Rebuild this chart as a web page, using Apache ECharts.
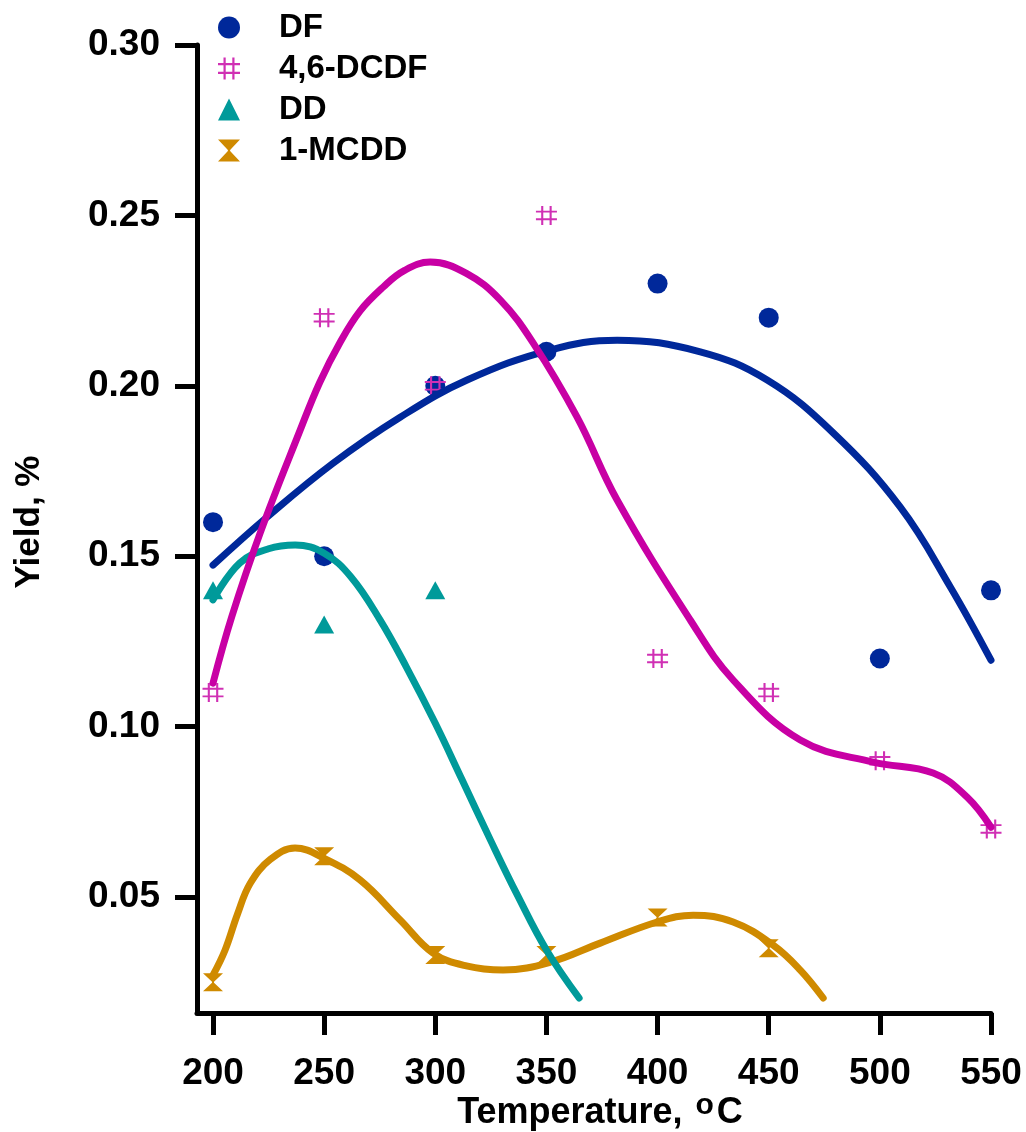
<!DOCTYPE html>
<html>
<head>
<meta charset="utf-8">
<script src="https://cdn.jsdelivr.net/npm/echarts@6/dist/echarts.min.js"></script>
<style>
html,body{margin:0;padding:0;background:#fff;}
#c{width:1026px;height:1132px;}
</style>
</head>
<body>
<div id="c"></div>
<script>
// ---- data ----
const xTicks = [200, 250, 300, 350, 400, 450, 500, 550];
const yTicks = [0.05, 0.10, 0.15, 0.20, 0.25, 0.30];

const temps = [200, 250, 300, 350, 400, 450, 500, 550];
const dfY   = [0.16, 0.15, 0.20, 0.21, 0.23, 0.22, 0.12, 0.14];
const dcdfY = [0.11, 0.22, 0.20, 0.25, 0.12, 0.11, 0.09, 0.07];
const ddX   = [200, 250, 300];
const ddY   = [0.14, 0.13, 0.14];
const mcddX = [200, 250, 300, 350, 400, 450];
const mcddY = [0.025, 0.062, 0.033, 0.033, 0.044, 0.035];

// fitted curves, points
const dfFit = [[200,0.1474],[224.3,0.1615],[254,0.1773],[284.2,0.1908],[314.3,0.2017],[351.7,0.2105],[381.8,0.2134],[419.2,0.2100],[449.3,0.2017],[479,0.1862],[509.2,0.1644],[531.7,0.1410],[550,0.1195]];
const dcdfFit = [[200,0.1128],[208.4,0.1322],[221.2,0.1568],[239.2,0.1870],[248,0.2010],[257.2,0.2128],[266.2,0.2220],[276.6,0.2290],[286,0.2338],[297.7,0.2363],[314,0.2330],[329.2,0.2252],[344,0.2126],[363.8,0.1908],[381.8,0.1665],[414.7,0.1313],[434,0.1137],[464.2,0.0961],[497,0.0896],[524,0.0864],[539.3,0.0793],[550,0.0705]];
const ddFit = [[200,0.1372],[212,0.1480],[225,0.1522],[237,0.1533],[250,0.1509],[262,0.1440],[275,0.1315],[287,0.1175],[300,0.1010],[312,0.0845],[325,0.0665],[337,0.0505],[350,0.0345],[364.7,0.0204]];
const mcddFit = [[200,0.0271],[205.4,0.0344],[211,0.0450],[216.7,0.0540],[225.7,0.0610],[236.9,0.0644],[250,0.0614],[266.2,0.0550],[284.2,0.0433],[299,0.0336],[314,0.0298],[330.5,0.0286],[351.7,0.0309],[374.2,0.0365],[399.8,0.0427],[416,0.0447],[434,0.0427],[452,0.0359],[464.2,0.0286],[474.5,0.0204]];

const names = ['DF', '4,6-DCDF', 'DD', '1-MCDD'];
const colors = { DF: '#00289a', DCDF: '#c800a4', DD: '#009a9a', MCDD: '#cf8a00' };

const hashPath = 'path://M5,0H7V20H5Z M13,0H15V20H13Z M0,5H20V7H0Z M0,13H20V15H0Z';
const hourglassPath = 'path://M0,0L20,0L11,9.5L11,10.5L20,20L0,20L9,10.5L9,9.5Z';

const FONT = '"Liberation Sans", Arial, Helvetica, sans-serif';

function zip(xs, ys) { return xs.map((x, i) => [x, ys[i]]); }

function fitLine(name, data, color, z) {
  return {
    name: name, type: 'line', data: data, smooth: 0.4, showSymbol: false, symbol: 'none',
    lineStyle: { color: color, width: 7, cap: 'round', join: 'round' },
    z: z, silent: true, legendHoverLink: false
  };
}

const chart = echarts.init(document.getElementById('c'), null, { renderer: 'canvas' });
chart.setOption({
  animation: false,
  backgroundColor: '#fff',
  grid: { left: 197, right: 35, top: 45, bottom: 119, containLabel: false, outerBoundsMode: 'none' },
  legend: {
    data: names,
    left: 213, top: 6, orient: 'vertical',
    itemWidth: 22, itemHeight: 22, itemGap: 8,
    textStyle: { fontFamily: FONT, fontSize: 33, fontWeight: 'bold', color: '#000', lineHeight: 32, padding: [0, 0, 0, 34] }
  },
  xAxis: {
    type: 'value', min: 192.8, max: 550,
    name: 'Temperature, {sup|o}C', nameLocation: 'middle', nameGap: 78, nameMoveOverlap: false,
    nameTextStyle: {
      fontFamily: FONT, fontSize: 36, fontWeight: 'bold', color: '#000', padding: [0, 0, 0, 12],
      rich: { sup: { fontFamily: FONT, fontSize: 30, fontWeight: 'bold', color: '#000', verticalAlign: 'top', padding: [0, 3, 15, 3] } }
    },
    axisLine: { show: true, onZero: false, lineStyle: { color: '#000', width: 5 } },
    axisTick: { show: true, length: 22, lineStyle: { color: '#000', width: 5 }, customValues: xTicks },
    axisLabel: { customValues: xTicks, margin: 42, fontFamily: FONT, fontSize: 37, fontWeight: 'bold', color: '#000' },
    splitLine: { show: false }
  },
  yAxis: {
    type: 'value', min: 0.016, max: 0.30,
    name: 'Yield, %', nameLocation: 'middle', nameRotate: 90, nameGap: 150, nameMoveOverlap: false,
    nameTextStyle: { fontFamily: FONT, fontSize: 35, fontWeight: 'bold', color: '#000', padding: [0, 0, 0, 14] },
    axisLine: { show: true, onZero: false, lineStyle: { color: '#000', width: 5 } },
    axisTick: { show: true, length: 22, lineStyle: { color: '#000', width: 5 }, customValues: yTicks },
    axisLabel: { customValues: yTicks, margin: 37, fontFamily: FONT, fontSize: 37, fontWeight: 'bold', color: '#000',
      formatter: v => v.toFixed(2) },
    splitLine: { show: false }
  },
  series: [
    { name: 'DF', type: 'scatter', data: zip(temps, dfY), symbol: 'circle', symbolSize: 20,
      itemStyle: { color: colors.DF, opacity: 1 }, z: 2 },
    { name: '4,6-DCDF', type: 'scatter', data: zip(temps, dcdfY), symbol: hashPath, symbolSize: [21, 19],
      itemStyle: { color: '#d030b4', opacity: 1 }, z: 2 },
    { name: 'DD', type: 'scatter', data: zip(ddX, ddY), symbol: 'triangle', symbolSize: [20, 18],
      itemStyle: { color: colors.DD, opacity: 1 }, z: 2 },
    { name: '1-MCDD', type: 'scatter', data: zip(mcddX, mcddY), symbol: hourglassPath, symbolSize: [20, 18],
      itemStyle: { color: colors.MCDD, opacity: 1 }, z: 2 },
    fitLine('MCDD fit', mcddFit, colors.MCDD, 3),
    fitLine('DD fit', ddFit, colors.DD, 3),
    fitLine('DF fit', dfFit, colors.DF, 3),
    fitLine('DCDF fit', dcdfFit, colors.DCDF, 3)
  ]
});
</script>
</body>
</html>
